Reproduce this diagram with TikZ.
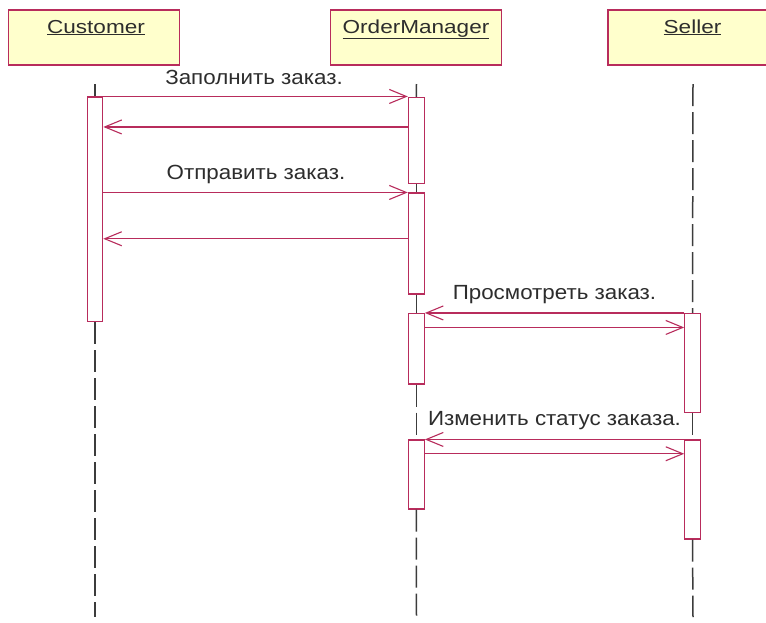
\documentclass[tikz,border=0pt]{standalone}
\usepackage{fontspec}
\setmainfont{Liberation Sans}
\newfontfamily\lblfont[FakeStretch=1.09]{Liberation Sans}
\newfontfamily\hdrfont[FakeStretch=1.2]{Liberation Sans}
\usetikzlibrary{arrows.meta,calc}
\definecolor{rline}{RGB}{184,44,92}
\definecolor{boxfill}{RGB}{255,255,204}
\definecolor{lifegray}{RGB}{60,60,60}
\definecolor{txt}{RGB}{45,45,45}
\tikzset{
  objbox/.style={draw=rline, fill=boxfill, line width=1.4pt, minimum width=171pt, minimum height=55pt, inner sep=0pt, rectangle},
  hdr/.style={font=\hdrfont\fontsize{18.8}{22}\selectfont, text=txt, inner sep=0pt, anchor=base},
  actbar/.style={draw=rline, fill=white, line width=1.1pt, minimum width=15.5pt, inner sep=0pt, rectangle},
  lifeline/.style={draw=lifegray, line width=1.5pt, dash pattern=on 22pt off 6pt},
  msg/.style={draw=rline, line width=1.2pt, -{Straight Barb[length=17pt,width=14pt,line width=1.1pt]}},
  lbl/.style={font=\lblfont\fontsize{20.5}{24}\selectfont, text=txt, inner sep=0pt, anchor=base}
}
\begin{document}
\begin{tikzpicture}[x=1pt,y=-1pt]
\clip (0,0) rectangle (766,622);
\fill[white] (0,0) rectangle (766,622);
% object boxes
\node[objbox] (cust) at (94.2,37.5) {};
\node[objbox] (om) at (416.2,37.5) {};
\node[objbox] (sel) at (693.5,37.5) {};
\node[hdr] (custl) at (96,33) {\underline{Customer}};
\node[hdr] (oml) at (416,33) {\underline{OrderManager}};
\node[hdr] (sell) at (692.5,33) {\underline{Seller}};
% lifeline ends
\coordinate (ctop) at (95,84);
\coordinate (cbot) at (95,617);
\coordinate (otop) at (416.5,84);
\coordinate (obot) at (416.5,617);
\coordinate (stop) at (693,84);
\coordinate (sbot) at (693,617);
% activation bars
\node[actbar, minimum height=224.5pt] (cb) at (95,209.25) {};
\node[actbar, minimum height=86pt, minimum width=16pt] (ob1) at (416.3,140.5) {};
\node[actbar, minimum height=101pt, minimum width=16pt] (ob2) at (416.3,243.5) {};
\node[actbar, minimum height=70.5pt, minimum width=16pt] (ob3) at (416.3,348.75) {};
\node[actbar, minimum height=69pt, minimum width=16pt] (ob4) at (416.3,474.5) {};
\node[actbar, minimum height=99pt] (sb1) at (692.5,363) {};
\node[actbar, minimum height=99pt] (sb2) at (692.5,489.5) {};
% lifelines
\draw[lifeline] (ctop) -- (cb.north);
\draw[lifeline] (cb.south) -- (cbot);
\draw[lifeline] (otop) -- (ob1.north);
\draw[lifeline] (ob1.south) -- (ob2.north);
\draw[lifeline] (ob2.south) -- (ob3.north);
\draw[lifeline] (ob3.south) -- (ob4.north);
\draw[lifeline] (ob4.south) -- (obot);
\draw[lifeline] (stop) -- (sb1.north);
\draw[lifeline] (sb1.south) -- (sb2.north);
\draw[lifeline] (sb2.south) -- (sbot);
% messages
\draw[msg] (cb.north east) -- (cb.north east -| ob1.west);
\draw[msg] ([yshift=-30pt]ob1.north west) -- ([yshift=-30pt]ob1.north west -| cb.east);
\draw[msg] (ob2.north west -| cb.east) -- (ob2.north west);
\draw[msg] ([yshift=-46.3pt]ob2.north west) -- ([yshift=-46.3pt]ob2.north west -| cb.east);
\draw[msg] (sb1.north west) -- (sb1.north west -| ob3.east);
\draw[msg] ([yshift=-14.5pt]ob3.north east) -- ([yshift=-14.5pt]ob3.north east -| sb1.west);
\draw[msg] (sb2.north west) -- (sb2.north west -| ob4.east);
\draw[msg] ([yshift=-14.3pt]ob4.north east) -- ([yshift=-14.3pt]ob4.north east -| sb2.west);
% labels
\node[lbl] (l1) at (254,84) {Заполнить заказ.};
\node[lbl] (l2) at (256,179.3) {Отправить заказ.};
\node[lbl] (l3) at (554.5,299.3) {Просмотреть заказ.};
\node[lbl] (l4) at (554.5,425) {Изменить статус заказа.};
\end{tikzpicture}
\end{document}
